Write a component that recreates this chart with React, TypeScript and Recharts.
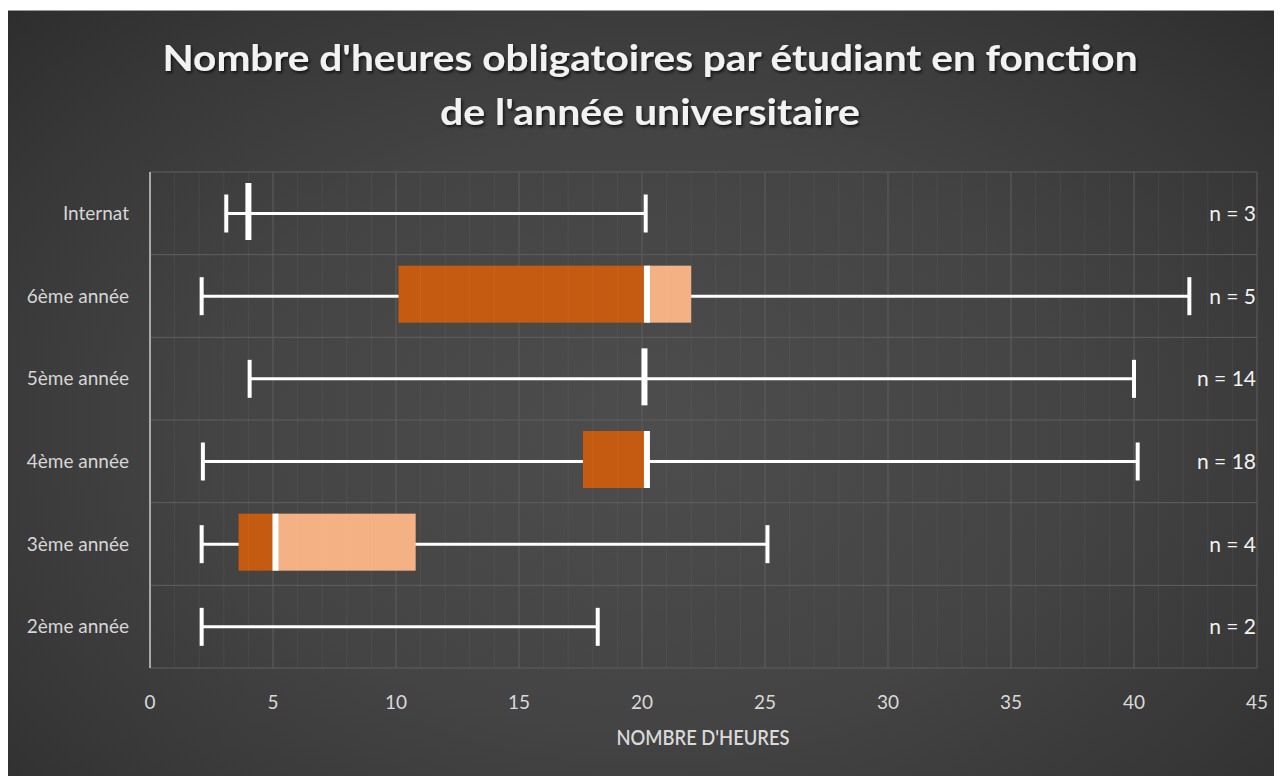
import React from 'react';
import {
  ComposedChart,
  Bar,
  XAxis,
  YAxis,
  CartesianGrid,
  ReferenceLine,
} from 'recharts';

// ---- Data (top row first) ----
const categories = ['Internat', '6ème année', '5ème année', '4ème année', '3ème année', '2ème année'];
const minValues = [3.1, 2.1, 4.05, 2.15, 2.1, 2.1];
const q1Values: (number | null)[] = [null, 10.1, null, 17.6, 3.6, null];
const medianValues: (number | null)[] = [4.0, 20.2, 20.1, 20.2, 5.1, null];
const q3Values: (number | null)[] = [null, 22.0, null, 20.2, 10.8, null];
const maxValues = [20.15, 42.25, 40.0, 40.15, 25.1, 18.2];
const nCounts = [3, 5, 14, 18, 4, 2];
const xTicks = [0, 5, 10, 15, 20, 25, 30, 35, 40, 45];
const X_MAX = 45;
const minorTicks = Array.from({ length: 46 }, (_, i) => i).filter((v) => v % 5 !== 0);

const TITLE_1 = "Nombre d'heures obligatoires par étudiant en fonction";
const TITLE_2 = "de l'année universitaire";
const X_TITLE = "NOMBRE D'HEURES";

const data = categories.map((c, i) => ({
  category: c,
  nLabel: `n = ${nCounts[i]}`,
  min: minValues[i],
  q1: q1Values[i],
  median: medianValues[i],
  q3: q3Values[i],
  max: maxValues[i],
  range: [minValues[i], maxValues[i]],
}));

const DARK = '#C55A11';
const LIGHT = '#F4B183';
const WHITE = '#FFFFFF';
const FONT = 'Lato, "Open Sans", sans-serif';

function BoxShape(props: any) {
  const { x, y, width, height } = props;
  const d = props.payload || props;
  if (x == null || width == null) return null;
  // map a value to pixels through the bar's own [min,max] -> [x, x+width] scale
  const px = (v: number) => x + ((v - d.min) / (d.max - d.min)) * width;
  const cy = y + height / 2;
  const by = y - 2;
  const capHalf = 19;
  const els: React.ReactNode[] = [];
  els.push(
    <line key="w" x1={px(d.min)} x2={px(d.max)} y1={cy} y2={cy} stroke={WHITE} strokeWidth={3} />
  );
  els.push(
    <line key="c1" x1={px(d.min)} x2={px(d.min)} y1={cy - capHalf} y2={cy + capHalf} stroke={WHITE} strokeWidth={4} />
  );
  els.push(
    <line key="c2" x1={px(d.max)} x2={px(d.max)} y1={cy - capHalf} y2={cy + capHalf} stroke={WHITE} strokeWidth={4} />
  );
  if (d.q1 != null && d.median != null) {
    els.push(
      <rect key="b1" x={px(d.q1)} y={by} width={px(d.median) - px(d.q1)} height={height} fill={DARK} />
    );
  }
  if (d.q3 != null && d.median != null && d.q3 > d.median) {
    els.push(
      <rect key="b2" x={px(d.median)} y={by} width={px(d.q3) - px(d.median)} height={height} fill={LIGHT} />
    );
  }
  if (d.median != null) {
    els.push(
      <rect key="m" x={px(d.median) - 3} y={by} width={6} height={height} fill={WHITE} />
    );
  }
  els.push(
    <text
      key="n"
      x={px(X_MAX) - 1}
      y={cy - 1}
      textAnchor="end"
      dominantBaseline="central"
      fontSize={21}
      fill="#f2f2f2"
      fontFamily={FONT}
    >
      {d.nLabel}
    </text>
  );
  return <g>{els}</g>;
}

const bandGenerator = (p: any) => {
  const off = p.offset || {};
  const top = off.top ?? 161;
  const h = off.height ?? 497;
  const n = categories.length;
  return Array.from({ length: n + 1 }, (_, i) => top + (i * h) / n);
};

export default function App() {
  const W = 1274;
  const H = 766;
  return (
    <div
      style={{
        position: 'relative',
        width: W,
        height: H,
        marginTop: 2,
        borderTop: '1px solid #9a9a9a',
        background:
          'radial-gradient(ellipse 75% 85% at 50% 55%, #4d4d4d 0%, #444444 45%, #373737 75%, #2a2a2a 100%)',
        overflow: 'hidden',
      }}
    >
      <ComposedChart
        width={W}
        height={H - 1}
        data={data}
        layout="vertical"
        margin={{ top: 161, right: 25, bottom: 68, left: 0 }}
        barCategoryGap={0}
      >
        <CartesianGrid
          horizontal={true}
          vertical={true}
          stroke="#5f5f5f"
          strokeWidth={1}
          yAxisId="cat"
          horizontalCoordinatesGenerator={bandGenerator}
        />
        <XAxis
          type="number"
          domain={[0, X_MAX]}
          ticks={xTicks}
          allowDataOverflow
          axisLine={false}
          tickLine={false}
          tickSize={0}
          tickMargin={28}
          height={40}
          tick={{ fill: '#d9d9d9', fontSize: 19, fontFamily: FONT }}
          interval={0}
        />
        <YAxis
          yAxisId="cat"
          type="category"
          dataKey="category"
          width={142}
          axisLine={{ stroke: '#a8a8a8', strokeWidth: 2 }}
          tickLine={false}
          tickSize={0}
          tickMargin={21}
          tick={{ fill: '#d6d6d6', fontSize: 19, fontFamily: FONT }}
          interval={0}
        />
        {minorTicks.map((v) => (
          <ReferenceLine key={`mn${v}`} x={v} yAxisId="cat" stroke="#ffffff" strokeOpacity={0.05} strokeWidth={1} />
        ))}
        <Bar
          yAxisId="cat"
          dataKey="range"
          barSize={57}
          shape={BoxShape}
          isAnimationActive={false}
        />
      </ComposedChart>
      <svg
        width={W}
        height={H}
        style={{ position: 'absolute', left: 0, top: 0, pointerEvents: 'none' }}
      >
        <defs>
          <filter id="ts" x="-5%" y="-30%" width="110%" height="160%">
            <feDropShadow dx="1.5" dy="2" stdDeviation="1.5" floodColor="#000000" floodOpacity="0.7" />
          </filter>
        </defs>
        <text
          x={642}
          y={60}
          textAnchor="middle"
          fontSize={36}
          fontWeight={700}
          fill="#f2f2f2"
          fontFamily={FONT}
          textLength={975}
          lengthAdjust="spacingAndGlyphs"
          filter="url(#ts)"
        >
          {TITLE_1}
        </text>
        <text
          x={642}
          y={114}
          textAnchor="middle"
          fontSize={36}
          fontWeight={700}
          fill="#f2f2f2"
          fontFamily={FONT}
          textLength={420}
          lengthAdjust="spacingAndGlyphs"
          filter="url(#ts)"
        >
          {TITLE_2}
        </text>
        <text
          x={695}
          y={734}
          textAnchor="middle"
          fontSize={21}
          fontWeight={600}
          fill="#d9d9d9"
          fontFamily={FONT}
          textLength={173}
          lengthAdjust="spacingAndGlyphs"
        >
          {X_TITLE}
        </text>
      </svg>
    </div>
  );
}
